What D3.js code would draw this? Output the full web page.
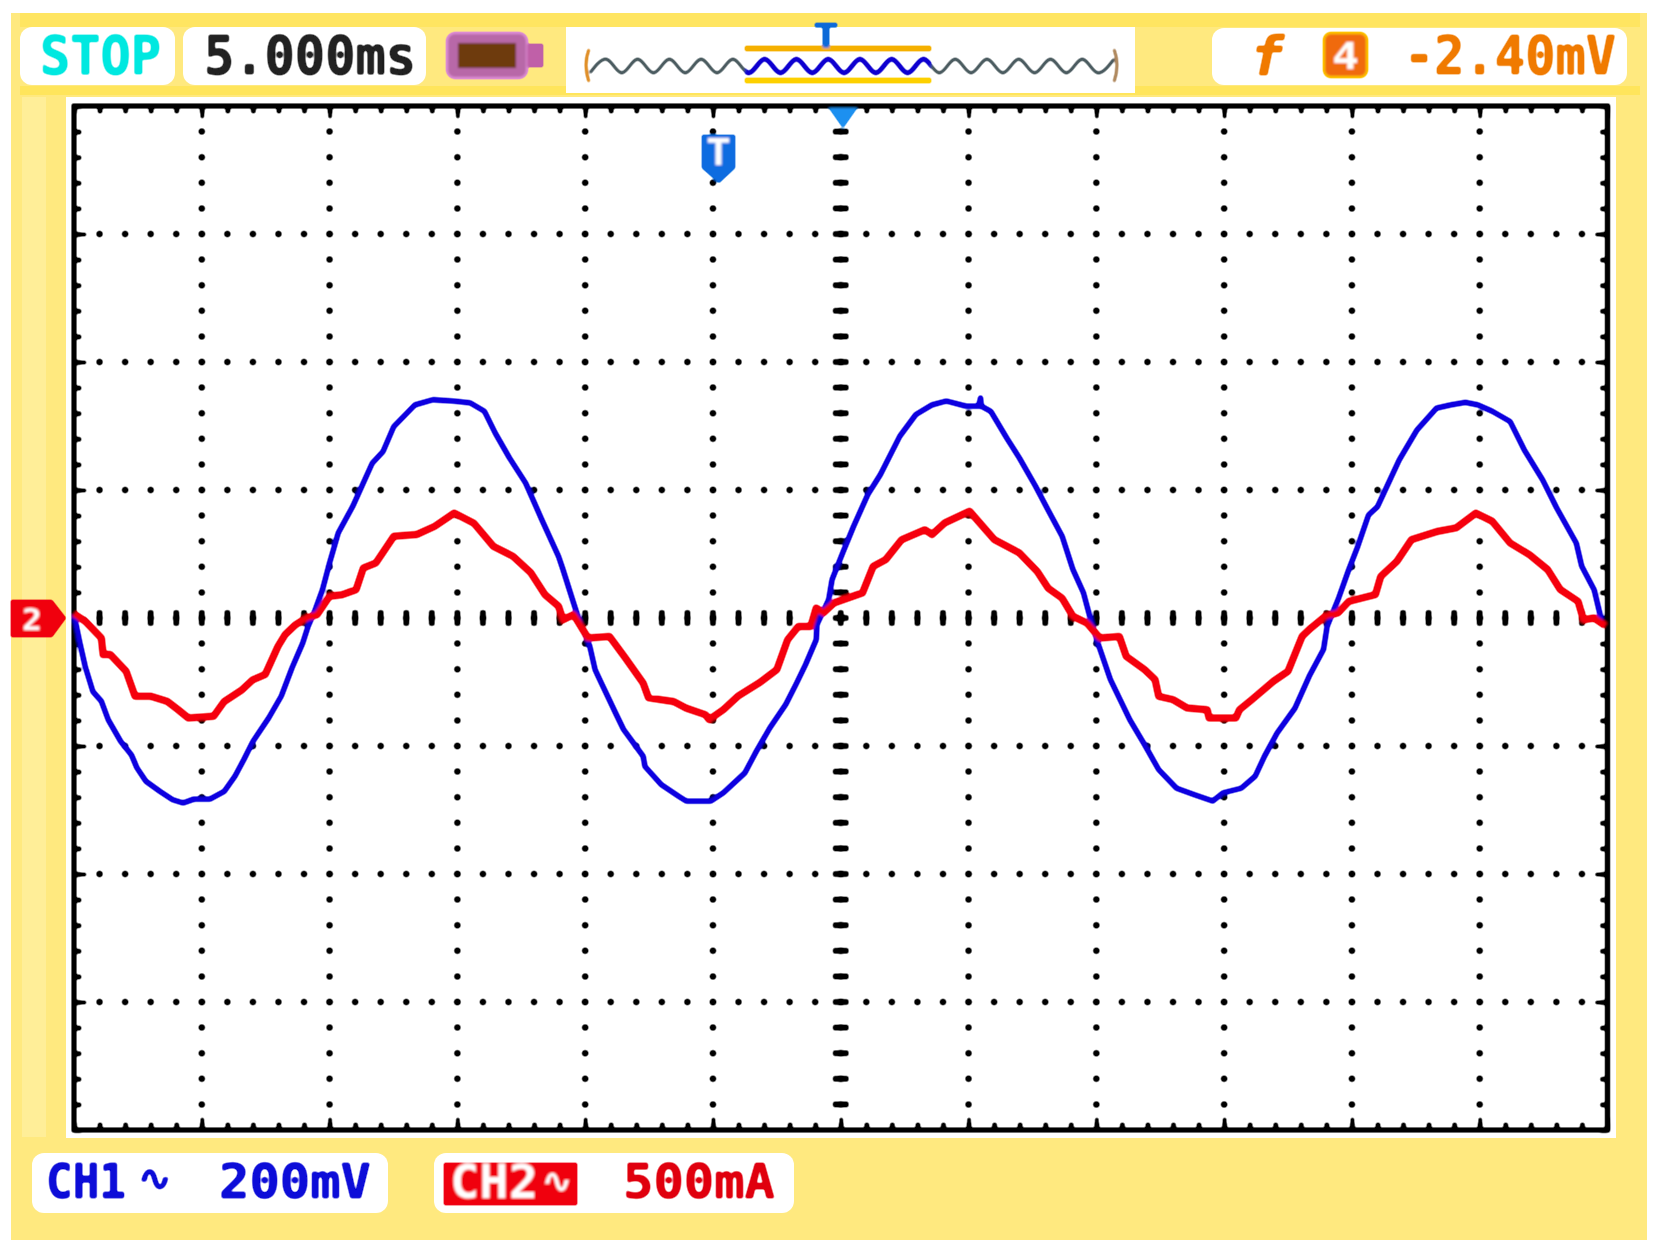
<!DOCTYPE html>
<html>
<head>
<meta charset="utf-8">
<style>
body{margin:0;background:#fff;}
svg{display:block;}
text{font-family:"DejaVu Sans Mono",monospace;}
</style>
<script src="https://cdnjs.cloudflare.com/ajax/libs/d3/7.8.5/d3.min.js"></script>
</head>
<body>
<svg width="1663" height="1252"></svg>
<script>
// CH1 voltage trace (ms, mV)
var ch1Time=[0,0.23,0.44,0.74,1.07,1.34,1.83,2.25,2.46,2.81,3.37,3.86,4.27,4.69,5.32,5.88,6.30,6.65,7.00,7.62,8.11,8.53,8.95,9.16,9.44,9.72,10.00,10.34,10.90,11.67,12.09,12.51,13.34,14.04,14.88,15.51,16.06,16.48,17.04,17.67,18.30,18.96,19.13,19.55,19.76,20.18,20.39,20.60,21.22,21.50,22.27,22.34,22.97,23.67,23.95,24.92,25.41,26.25,26.66,27.22,27.85,28.27,28.62,29.04,29.07,29.53,29.66,30.08,30.50,31.06,31.55,32.31,32.94,33.57,34.13,34.90,35.40,35.47,35.50,35.87,36.50,36.99,37.62,38.24,38.66,39.08,39.50,39.78,40.06,40.55,41.31,41.89,42.44,43.14,43.84,44.55,44.97,45.67,46.22,46.58,47.07,47.77,48.33,48.89,49.03,49.46,49.88,50.23,50.65,51.00,51.85,52.55,53.31,53.87,54.44,54.93,55.49,56.19,56.74,57.46,58.01,58.78,58.99,59.48,59.76];
var ch1Volt=[5,-39,-76,-115,-130,-159,-193,-214,-234,-255,-271,-284,-289,-283,-283,-271,-247,-221,-193,-156,-122,-78,-39,-13,13,44,86,133,174,242,260,299,333,341,339,336,323,289,250,211,154,96,76,23,-3,-44,-81,-99,-151,-174,-216,-232,-260,-279,-286,-286,-273,-242,-211,-172,-135,-102,-73,-34,-10,29,60,102,143,193,224,284,318,333,339,331,331,344,331,323,281,250,206,159,128,76,39,-3,-39,-96,-159,-198,-237,-266,-276,-286,-273,-266,-247,-216,-180,-141,-91,-49,-13,29,76,112,161,174,247,294,328,333,337,333,323,307,263,216,172,117,81,44,-3];

// CH2 current trace (ms, mA)
var ch2Time=[0,0.44,1.07,1.14,1.42,2.04,2.39,3.02,3.65,4.07,4.48,5.46,5.88,6.58,7.00,7.48,7.98,8.26,8.67,9.09,9.51,10.00,10.49,11.04,11.32,11.81,12.51,13.41,14.11,14.88,15.64,16.41,17.18,17.88,18.43,18.96,19.13,19.55,20.11,20.95,21.57,22.27,22.48,23.45,23.95,24.71,24.85,25.41,25.97,26.80,27.50,27.92,28.34,28.83,29.04,29.32,29.74,30.85,31.27,31.76,32.38,33.29,33.57,34.06,35.04,36.01,36.99,37.69,38.11,38.66,39.08,39.64,40.13,40.90,41.17,41.89,42.30,42.44,43.00,43.56,44.34,44.41,45.46,45.60,46.08,46.93,47.50,48.05,48.40,48.96,49.46,49.88,50.92,51.13,51.76,52.33,53.38,54.08,54.85,55.49,56.19,56.95,57.66,58.15,58.85,59.06,59.48,59.91];
var ch2Amp=[16,-13,-78,-143,-143,-208,-306,-306,-326,-358,-391,-384,-326,-280,-241,-221,-111,-65,-26,0,13,85,91,111,195,215,319,326,358,410,371,280,241,176,91,46,-7,13,-78,-72,-156,-254,-312,-326,-352,-378,-397,-358,-306,-254,-202,-85,-33,-33,39,20,59,98,202,228,306,345,326,371,417,306,254,182,117,78,7,-20,-78,-72,-150,-202,-241,-306,-319,-352,-358,-391,-391,-358,-319,-247,-208,-72,-39,7,20,65,91,163,221,306,339,352,410,378,293,247,189,111,65,-7,0,-30];

// graticule
var timeDivs=[0,5,10,15,20,25,30,35,40,45,50,55,60];
var timeSubs=d3.range(0,61,1);
var voltDivs=[-800,-600,-400,-200,0,200,400,600,800];
var voltSubs=d3.range(-800,801,40);

// little overview strip above the screen: one entry per zigzag corner
var stripWave=[1,-1,1,-1,1,-1,1,-1,1,-1,1,-1,1,-1,1,-1,1,-1,1,-1,1,-1,1,-1,1,-1,1,-1,1,-1,1,-1,1,-1];

var svg=d3.select("svg");

var x=d3.scaleLinear().domain([0,60]).range([74,1607.5]);
var yV=d3.scaleLinear().domain([-800,800]).range([1130,106]);
var yA=d3.scaleLinear().domain([-2000,2000]).range([1130,106]);
var stripX=d3.scaleLinear().domain([0,stripWave.length-1]).range([590,1114]);
var stripY=d3.scaleLinear().domain([-1,1]).range([59,73]);

// soft edges like the photo, alpha pushed back up so thin marks stay dark
var soft=svg.append("defs").append("filter").attr("id","soft")
  .attr("filterUnits","userSpaceOnUse").attr("x",0).attr("y",0).attr("width",1663).attr("height",1252);
soft.append("feGaussianBlur").attr("stdDeviation",1);
soft.append("feComponentTransfer").append("feFuncA").attr("type","linear").attr("slope",2.2).attr("intercept",-0.35);

var back=svg.append("g");
var root=svg.append("g").attr("filter","url(#soft)");

// panels
back.append("rect").attr("x",11).attr("y",13).attr("width",1636).attr("height",1227).attr("fill","#ffe97f");
back.append("rect").attr("x",20).attr("y",13).attr("width",1620).attr("height",14).attr("fill","#ffe34d").attr("opacity",0.6);
back.append("rect").attr("x",20).attr("y",86).attr("width",1620).attr("height",9).attr("fill","#ffe34d").attr("opacity",0.7);
back.append("rect").attr("x",22).attr("y",97).attr("width",24).attr("height",1040).attr("fill","#ffee98");
back.append("rect").attr("x",66).attr("y",97).attr("width",1550).attr("height",1041).attr("fill","#fff");

function pill(x0,y0,x1,y1){
  back.append("rect").attr("x",x0).attr("y",y0).attr("width",x1-x0).attr("height",y1-y0)
    .attr("rx",12).attr("fill","#fff");
}
pill(20,27,175,85);
pill(183,27,426,85);
back.append("rect").attr("x",566).attr("y",27).attr("width",569).attr("height",66).attr("fill","#fff");
pill(1212,28,1627,85);
pill(32,1153,388,1213);
pill(434,1153,794,1213);

function label(s,x0,base,size,color,len){
  return root.append("text").text(s).attr("x",x0).attr("y",base)
    .attr("font-size",size).attr("font-weight","bold").attr("fill",color)
    .attr("textLength",len).attr("lengthAdjust","spacingAndGlyphs");
}

label("STOP",40,74,53,"#00e8e0",121);
label("5.000ms",204,74,53,"#222",212);
label("-2.40mV",1404,74,53,"#f07a00",212);
label("f",1250,75,53,"#f07a00",34).attr("font-style","italic");
label("CH1",46,1198,48,"#0808d8",80);
label("\u223F",138,1190,34,"#0808d8",33);
label("200mV",219,1198,48,"#0808d8",152);
label("500mA",623,1198,48,"#e00010",152);

// battery
root.append("rect").attr("x",447).attr("y",33).attr("width",80).attr("height",45).attr("rx",8)
  .attr("fill","#b868a8").attr("stroke","#e090d8").attr("stroke-width",2);
root.append("rect").attr("x",527).attr("y",44).attr("width",16).attr("height",23).attr("fill","#c060a8");
root.append("rect").attr("x",458).attr("y",43).attr("width",58).attr("height",25).attr("fill","#6e3a10");

// overview strip
root.append("rect").attr("x",745).attr("y",46).attr("width",186).attr("height",5).attr("fill","#f5b000");
root.append("rect").attr("x",745).attr("y",78).attr("width",186).attr("height",5).attr("fill","#fdd000");
var strip=d3.line().x(function(d,i){return stripX(i);}).y(function(d){return stripY(d);}).curve(d3.curveMonotoneX);
root.append("path").datum(stripWave).attr("d",strip).attr("fill","none").attr("stroke","#4c5c60").attr("stroke-width",2.5);
root.append("clipPath").attr("id","stripClip").append("rect").attr("x",745).attr("y",40).attr("width",186).attr("height",50);
root.append("path").datum(stripWave).attr("d",strip).attr("fill","none").attr("stroke","#1000d0").attr("stroke-width",4)
  .attr("clip-path","url(#stripClip)");
root.append("path").attr("d","M589,49 Q583,65 589,82").attr("fill","none").attr("stroke","#e0902a").attr("stroke-width",2.5);
root.append("path").attr("d","M1114,49 Q1120,65 1114,82").attr("fill","none").attr("stroke","#b08a60").attr("stroke-width",2.5);
label("T",813,48,34,"#0a6ad8",26);

// trigger source box
root.append("rect").attr("x",1324).attr("y",33).attr("width",43).attr("height",44).attr("rx",7)
  .attr("fill","#f06a10").attr("stroke","#ffc800").attr("stroke-width",2);
label("4",1332,69,38,"#fff",27);

// CH2 box
root.append("rect").attr("x",444).attr("y",1163).attr("width",133).attr("height",42).attr("fill","#f00008");
label("CH2",450,1198,46,"#fff",88);
label("\u223F",542,1192,32,"#fff",30);

// dotted graticule
var grid=root.append("g").attr("fill","#000");
timeDivs.slice(1,-1).forEach(function(t){
  grid.selectAll(null).data(voltSubs.slice(1,-1)).enter()
    .append("circle")
    .attr("cx",x(t))
    .attr("cy",function(d){return yV(d);})
    .attr("r",3);
});
voltDivs.slice(1,-1).forEach(function(v){
  grid.selectAll(null).data(timeSubs.slice(1,-1)).enter()
    .append("circle")
    .attr("cx",function(d){return x(d);})
    .attr("cy",yV(v))
    .attr("r",3);
});
// centre lines are drawn as short bars
grid.selectAll(null).data(timeSubs.slice(1,-1)).enter()
  .append("rect")
  .attr("x",function(d){return x(d)-2.5;})
  .attr("y",yV(0)-7.5)
  .attr("width",5).attr("height",15);
grid.selectAll(null).data(voltSubs.slice(1,-1)).enter()
  .append("rect")
  .attr("x",x(30)-7.5)
  .attr("y",function(d){return yV(d)-2.5;})
  .attr("width",15).attr("height",5);

// edge ticks with d3 axes, no labels
function edge(axis,tx,ty,size,values,w){
  var g=root.append("g").attr("transform","translate("+tx+","+ty+")")
    .call(axis.tickValues(values).tickSize(size).tickFormat(""));
  g.select(".domain").remove();
  g.selectAll("line").attr("stroke","#000").attr("stroke-width",w);
}
edge(d3.axisBottom(x),0,yV(800),7,timeSubs,4);
edge(d3.axisBottom(x),0,yV(800),12,timeDivs,3);
edge(d3.axisTop(x),0,yV(-800),7,timeSubs,4);
edge(d3.axisTop(x),0,yV(-800),12,timeDivs,3);
edge(d3.axisRight(yV),x(0),0,7,voltSubs,4);
edge(d3.axisRight(yV),x(0),0,12,voltDivs,3);
edge(d3.axisLeft(yV),x(60),0,7,voltSubs,4);
edge(d3.axisLeft(yV),x(60),0,12,voltDivs,3);
root.append("rect").attr("x",x(0)).attr("y",yV(800)).attr("width",x(60)-x(0)).attr("height",yV(-800)-yV(800))
  .attr("fill","none").attr("stroke","#000").attr("stroke-width",4.5);

// trigger position, top of screen
root.append("path").attr("d","M829,108 L857,108 L843,128 Z").attr("fill","#1e90f0");
// T marker
root.append("path").attr("d","M702,135 L735,135 L735,168 L719,183 L702,168 Z").attr("fill","#0a6ce0");
label("T",706,165,38,"#fff",25);

// ground marker on the left
root.append("path").attr("d","M11,600 L52,600 L66,618 L52,637 L11,637 Z").attr("fill","#f00008");
label("2",22,630,30,"#fff",20);

// traces
var ch1Line=d3.line().x(function(d){return x(d[0]);}).y(function(d){return yV(d[1]);});
var ch2Line=d3.line().x(function(d){return x(d[0]);}).y(function(d){return yA(d[1]);});

root.append("path").datum(d3.zip(ch1Time,ch1Volt)).attr("d",ch1Line)
  .attr("fill","none").attr("stroke","#0a00e0").attr("stroke-width",4.8).attr("stroke-linejoin","round");
root.append("path").datum(d3.zip(ch2Time,ch2Amp)).attr("d",ch2Line)
  .attr("fill","none").attr("stroke","#f5000a").attr("stroke-width",6.5).attr("stroke-linejoin","round");
</script>
</body>
</html>
